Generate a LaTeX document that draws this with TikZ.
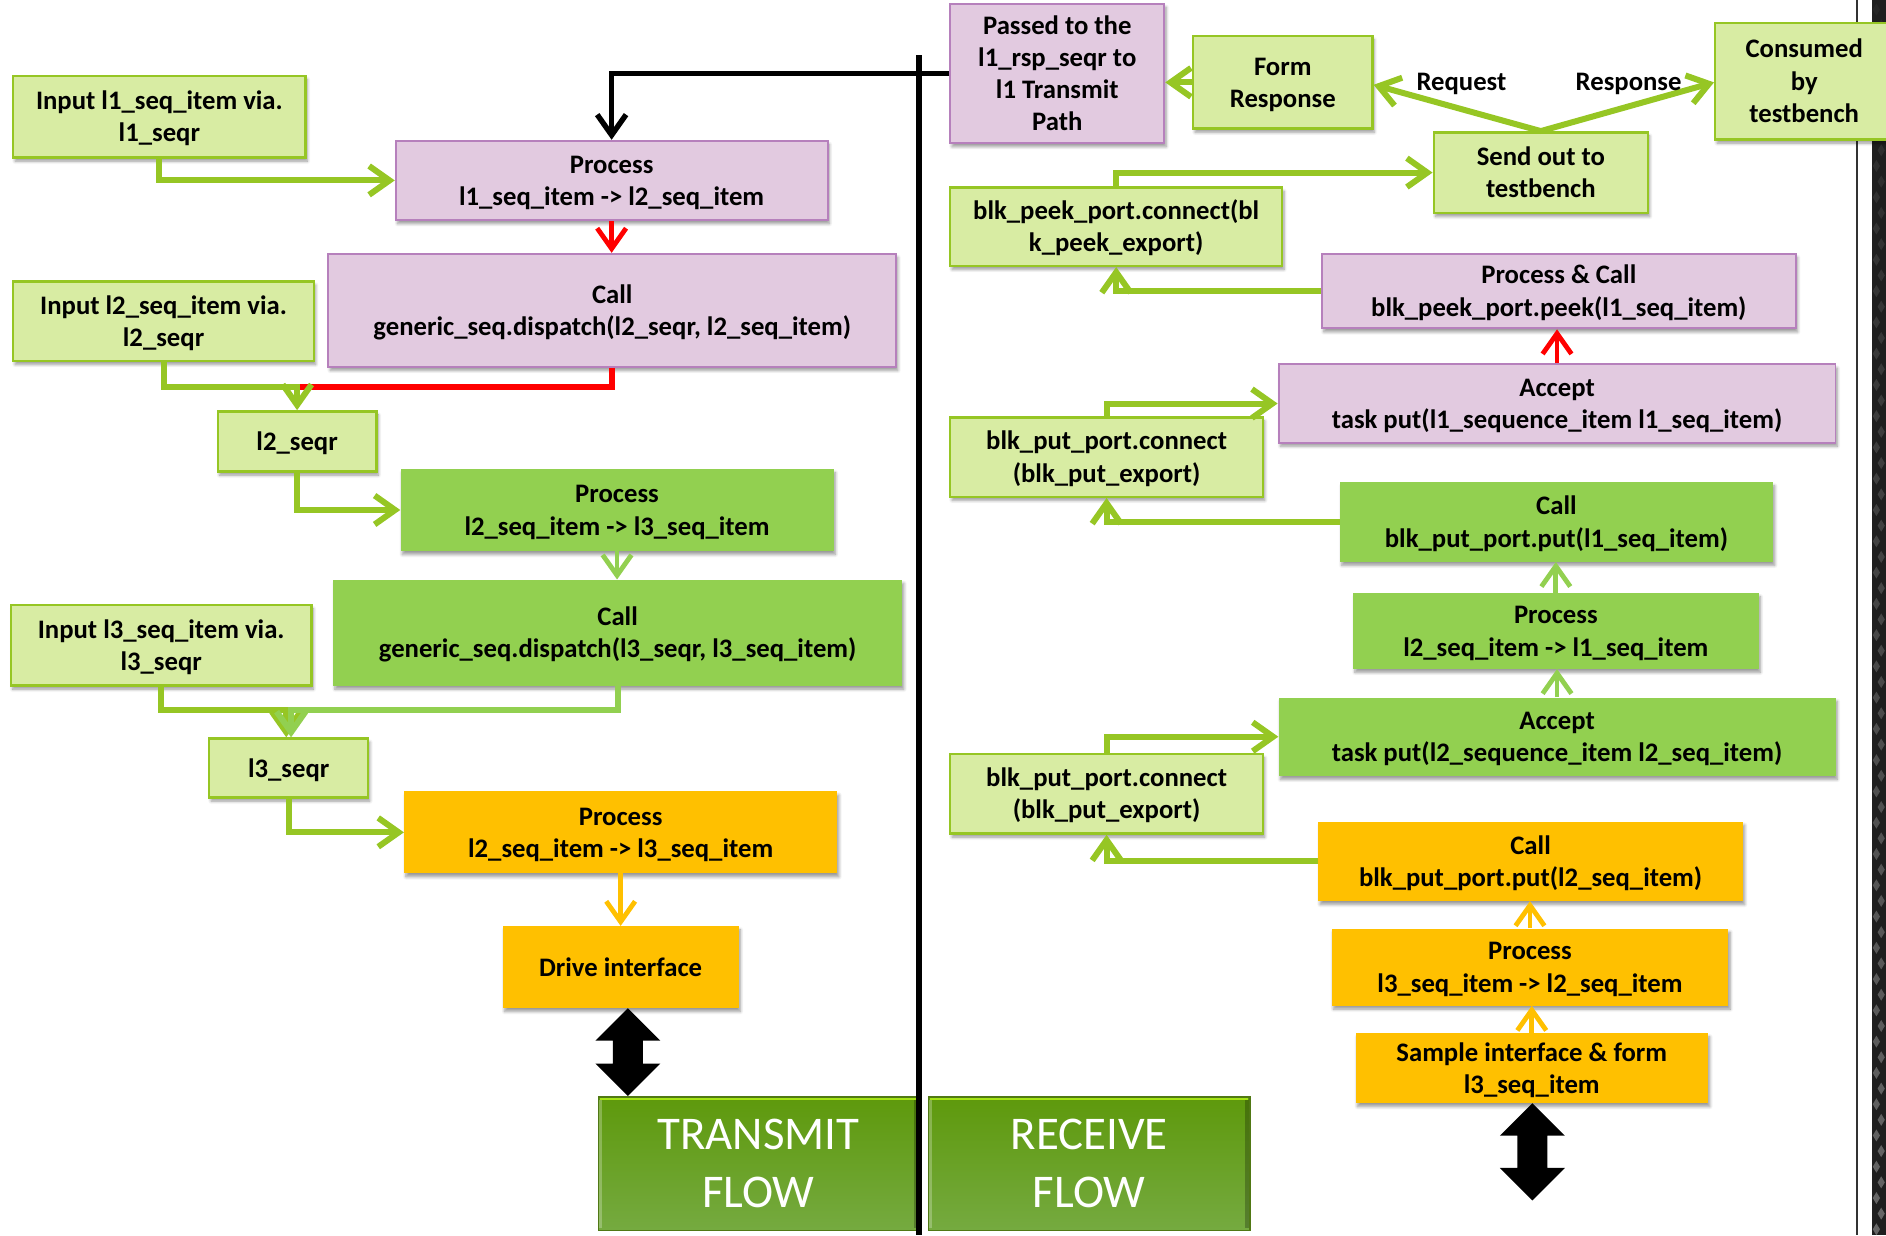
\documentclass[tikz,border=0pt]{standalone}
\usepackage{fontspec}
\setmainfont{Carlito}
\usetikzlibrary{arrows.meta,calc,shadows,shadows.blur}

\definecolor{lgfill}{RGB}{216,236,163}
\definecolor{lgline}{RGB}{150,198,36}
\definecolor{pkfill}{RGB}{226,202,224}
\definecolor{pkline}{RGB}{182,128,188}
\definecolor{mgreen}{RGB}{146,208,80}
\definecolor{orng}{RGB}{255,192,0}
\definecolor{txtop}{RGB}{94,153,12}
\definecolor{txbot}{RGB}{117,170,64}
\definecolor{txedge}{RGB}{80,120,20}
\definecolor{txlime}{RGB}{165,228,20}

\newcommand\boxfont{\fontsize{22.2}{26.8}\selectfont\bfseries}
\newcommand\flowfont{\fontsize{39}{48}\selectfont}
% struts that fix the height of a box's first line and the depth of its last one
\newcommand\ts{\rule{0pt}{21pt}}
\newcommand\te{\rule[-6pt]{0pt}{6pt}}

% filled two-headed block arrow between two points (top tip, bottom tip)
\newcommand\biarrow[2]{%
  \fill[black] (#1) -- ++(27,27) -- ++(-14.5,0) -- ($(#2)+(12.5,-27)$) -- ++(14.5,0)
    -- (#2) -- ++(-27,-27) -- ++(14.5,0) -- ($(#1)+(-12.5,27)$) -- ++(-14.5,0) -- cycle;}

\tikzset{
  box/.style={rectangle, align=center, inner sep=0pt, font=\boxfont,
    blur shadow={shadow xshift=1.5pt, shadow yshift=-3pt, shadow blur steps=6,
      shadow blur radius=2.5pt, shadow opacity=40}},
  lgbox/.style={box, fill=lgfill, draw=lgline, line width=2pt},
  pkbox/.style={box, fill=pkfill, draw=pkline, line width=1.6pt},
  gbox/.style={box, fill=mgreen},
  obox/.style={box, fill=orng},
  flowbox/.style={rectangle, align=center, inner sep=0pt, text=white, font=\flowfont,
    top color=txtop, bottom color=txbot, draw=txedge, line width=1.5pt},
  lbl/.style={font=\boxfont, inner sep=0pt, anchor=base},
  barb/.style={-{Straight Barb[length=17pt,width=24pt]}},
  elbow/.style={draw=lgline, line width=5pt, barb},
  elbowlight/.style={draw=mgreen, line width=5pt, barb},
  redlink/.style={draw=red, line width=4pt, barb},
  redelbow/.style={draw=red, line width=5pt},
  glink/.style={draw=mgreen, line width=4pt, barb},
  olink/.style={draw=orng, line width=4pt, barb},
  blk/.style={draw=black, line width=4.5pt, barb},
}

\begin{document}
\begin{tikzpicture}[x=1pt,y=-1pt]
\useasboundingbox (0,0) rectangle (1568,1027);
\clip (0,0) rectangle (1568,1027);

% frame strip on the right-hand side
\fill[black!88] (1556,0) rectangle (1568,1027);
\foreach \k in {0,...,79}{%
  \pgfmathsetmacro\op{0.06+0.006*\k}%
  \fill[gray!70,opacity=\op] ({1560+mod(\k,2)*4},{\k*13+3}) -- ++(3,5) -- ++(-3,5) -- ++(-3,-5) -- cycle;}
\draw[black!80, line width=2pt] (1544,0) -- (1544,1027);

% ---------------- transmit side ----------------
\node[lgbox, minimum width=243, minimum height=68] (in1) at (132.5,97) {\ts Input l1\_seq\_item via.\\l1\_seqr\te};
\node[pkbox, minimum width=359, minimum height=66] (p1) at (508.5,150) {\ts Process\\l1\_seq\_item -> l2\_seq\_item\te};
\node[pkbox, minimum width=472, minimum height=94] (c1) at (509,258) {\ts Call\\generic\_seq.dispatch(l2\_seqr, l2\_seq\_item)\te};
\node[lgbox, minimum width=250, minimum height=66] (in2) at (136,267) {\ts Input l2\_seq\_item via.\\l2\_seqr\te};
\node[lgbox, minimum width=132, minimum height=50] (s2) at (247,367) {\ts l2\_seqr\te};
\node[gbox, minimum width=360, minimum height=68] (p2) at (513,424) {\ts Process\\l2\_seq\_item -> l3\_seq\_item\te};
\node[gbox, minimum width=473, minimum height=88] (c2) at (513.5,526) {\ts Call\\generic\_seq.dispatch(l3\_seqr, l3\_seq\_item)\te};
\node[lgbox, minimum width=250, minimum height=67] (in3) at (134,536.5) {\ts Input l3\_seq\_item via.\\l3\_seqr\te};
\node[lgbox, minimum width=132, minimum height=49] (s3) at (240,638.5) {\ts l3\_seqr\te};
\node[obox, minimum width=360, minimum height=68] (p3) at (516,692) {\ts Process\\l2\_seq\_item -> l3\_seq\_item\te};
\node[obox, minimum width=196, minimum height=68] (drv) at (516,804) {\ts Drive interface\te};

% ---------------- receive side ----------------
\node[pkbox, minimum width=178, minimum height=116] (pass) at (879,61) {\ts Passed to the\\l1\_rsp\_seqr to\\l1 Transmit\\Path\te};
\node[lgbox, minimum width=149, minimum height=77] (form) at (1066.5,68.5) {\ts Form\\Response\te};
\node[lgbox, minimum width=178, minimum height=67] (send) at (1281,143.5) {\ts Send out to\\testbench\te};
\node[lgbox, minimum width=276, minimum height=65] (peek) at (928,188.5) {\ts blk\_peek\_port.connect(bl\\k\_peek\_export)\te};
\node[pkbox, minimum width=394, minimum height=62] (pc) at (1296,242) {\ts Process \& Call\\blk\_peek\_port.peek(l1\_seq\_item)\te};
\node[pkbox, minimum width=463, minimum height=65] (acc1) at (1294.5,335.5) {\ts Accept\\task put(l1\_sequence\_item l1\_seq\_item)\te};
\node[lgbox, minimum width=260, minimum height=66] (put1) at (920,380) {\ts blk\_put\_port.connect\\(blk\_put\_export)\te};
\node[gbox, minimum width=360, minimum height=66] (call1) at (1294,434) {\ts Call\\blk\_put\_port.put(l1\_seq\_item)\te};
\node[gbox, minimum width=337, minimum height=63] (pr21) at (1293.5,524.5) {\ts Process\\l2\_seq\_item -> l1\_seq\_item\te};
\node[gbox, minimum width=463, minimum height=65] (acc2) at (1294.5,612.5) {\ts Accept\\task put(l2\_sequence\_item l2\_seq\_item)\te};
\node[lgbox, minimum width=260, minimum height=66] (put2) at (920,660) {\ts blk\_put\_port.connect\\(blk\_put\_export)\te};
\node[obox, minimum width=353, minimum height=66] (call2) at (1272.5,716) {\ts Call\\blk\_put\_port.put(l2\_seq\_item)\te};
\node[obox, minimum width=330, minimum height=64] (pr32) at (1272,804) {\ts Process\\l3\_seq\_item -> l2\_seq\_item\te};
\node[obox, minimum width=293, minimum height=58] (samp) at (1273.5,888) {\ts Sample interface \& form\\l3\_seq\_item\te};
\node[lgbox, minimum width=148, minimum height=97] (cons) at (1500,67.5) {\ts Consumed\\by\\testbench\te};

% flow banners
\node[flowbox, minimum width=266, minimum height=111] (tx) at (630.5,967.5) {TRANSMIT\\FLOW};
\node[flowbox, minimum width=267, minimum height=111] (rx) at (905.5,967.5) {RECEIVE\\FLOW};
\foreach \b in {tx,rx}{%
  \draw[txlime, line width=2pt] ([shift={(2,2.5)}]\b.north west) -- ([shift={(-2,2.5)}]\b.north east);
  \draw[black, opacity=0.25, line width=3pt] ([shift={(-3,3)}]\b.north east) -- ([shift={(-3,-3)}]\b.south east);
  \draw[white, opacity=0.25, line width=2pt] ([shift={(2.5,3)}]\b.north west) -- ([shift={(2.5,-3)}]\b.south west);}

% divider between the two flows
\coordinate (divtop) at (764,46);
\coordinate (divbot) at (764,1027);
\draw[black, line width=4.5pt] (divtop) -- (divbot);

% ---------------- transmit connectors ----------------
\draw[blk] (pass.west) -| (p1.north);
\draw[elbow] (in1.south) |- (p1.west);
\draw[redlink] (p1.south) -- (p1.south |- c1.north);
\coordinate (j2) at (247,322);
\draw[redelbow] (c1.south) |- (j2);
\draw[elbow] (in2.south) |- (j2) -- (s2.north);
\draw[elbow] (s2.south) |- (p2.west);
\draw[glink] (p2.south) -- (p2.south |- c2.north);
\coordinate (j3) at (240,590);
\draw[elbow] (in3.south) |- ([xshift=-2pt]j3) -- ([xshift=-2pt]s3.north);
\draw[elbowlight] (c2.south) |- ([xshift=2pt]j3) -- ([xshift=2pt]s3.north);
\draw[elbow] (s3.south) |- (p3.west);
\draw[olink] (p3.south) -- (p3.south |- drv.north);
\coordinate (da1) at ([xshift=6pt]drv.south);
\coordinate (da2) at (da1 |- tx.north);
\biarrow{da1}{da2}

% ---------------- receive connectors ----------------
\draw[elbow] (form.west) -- (form.west -| pass.east);
\coordinate (apex) at (send.north);
\draw[elbow] (apex) -- ([yshift=-2pt]form.east);
\draw[elbow] (apex) -- ([yshift=-1pt]cons.west);
\node[lbl] (req) at (1215,75) {Request};
\node[lbl] (resp) at (1354,75) {Response};
\draw[elbow] (peek.north) |- (send.west);
\draw[elbow] (pc.west) -| (peek.south);
\draw[redlink] (acc1.north) -- (acc1.north |- pc.south);
\draw[elbow] (put1.north) |- (acc1.west);
\draw[elbow] (call1.west) -| (put1.south);
\draw[glink] (pr21.north) -- (pr21.north |- call1.south);
\draw[glink] (acc2.north) -- (acc2.north |- pr21.south);
\draw[elbow] (put2.north) |- (acc2.west);
\draw[elbow] (call2.west) -| (put2.south);
\draw[olink] (pr32.north) -- (pr32.north |- call2.south);
\draw[olink] (samp.north) -- (samp.north |- pr32.south);
\coordinate (db1) at ([xshift=0.5pt]samp.south);
\coordinate (db2) at (1274,998);
\biarrow{db1}{db2}
\end{tikzpicture}
\end{document}
